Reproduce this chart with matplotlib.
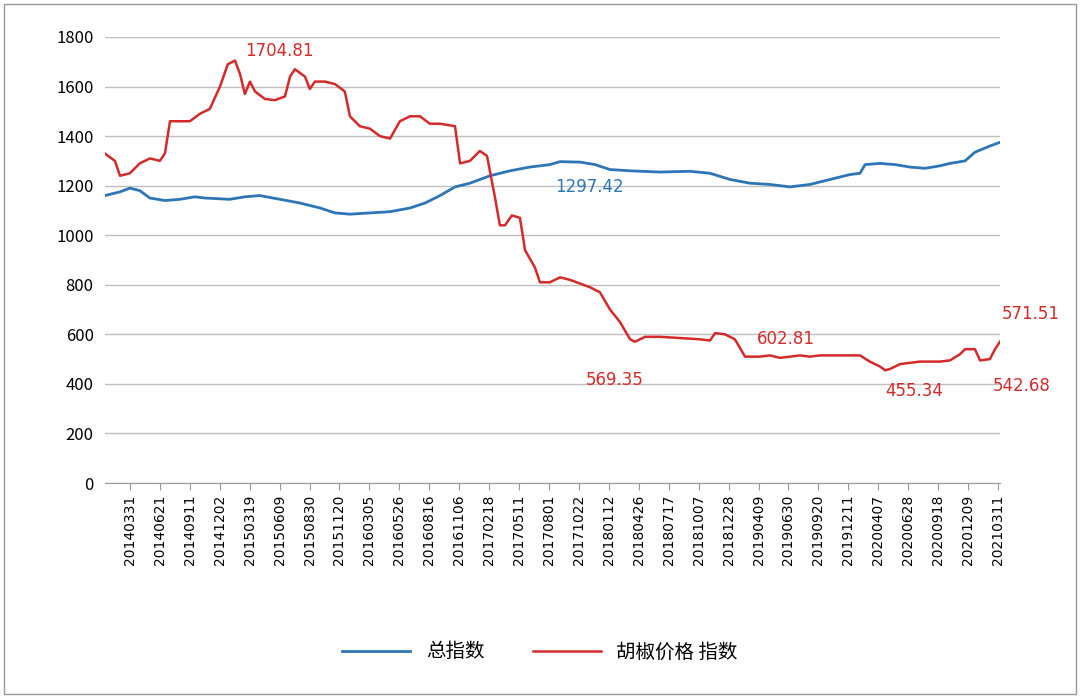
import matplotlib

matplotlib.use("Agg")
import matplotlib.pyplot as plt  # noqa: E402
from matplotlib.patches import Rectangle  # noqa: E402

plt.rcParams["font.family"] = ["Noto Sans CJK SC", "DejaVu Sans"]

tick_labels = [
    "20140331", "20140621", "20140911", "20141202", "20150319", "20150609",
    "20150830", "20151120", "20160305", "20160526", "20160816", "20161106",
    "20170218", "20170511", "20170801", "20171022", "20180112", "20180426",
    "20180717", "20181007", "20181228", "20190409", "20190630", "20190920",
    "20191211", "20200407", "20200628", "20200918", "20201209", "20210311",
]

# position in tick-label periods, value
pepper_pos = [
    -0.84, -0.50, -0.33, 0, 0.33, 0.67, 1.00, 1.17, 1.34, 1.67, 2.00, 2.34, 2.67,
    3.01, 3.27, 3.51, 3.68, 3.84, 4.01, 4.18, 4.51, 4.84, 5.18, 5.35, 5.51, 5.85,
    6.01, 6.18, 6.52, 6.85, 7.18, 7.35, 7.68, 8.02, 8.35, 8.69, 9.02, 9.36, 9.69,
    10.02, 10.36, 10.86, 11.03, 11.36, 11.69, 11.93, 12.20, 12.36, 12.53, 12.76,
    13.03, 13.20, 13.53, 13.70, 14.03, 14.37, 14.70, 15.04, 15.37, 15.70, 16.04,
    16.37, 16.71, 16.87, 17.21, 17.71, 18.38, 19.04, 19.38, 19.55, 19.88, 20.21,
    20.55, 21.05, 21.38, 21.72, 22.05, 22.39, 22.72, 23.05, 23.72, 24.39, 24.72,
    25.06, 25.23, 25.39, 25.73, 26.06, 26.39, 27.06, 27.40, 27.73, 27.90, 28.23,
    28.40, 28.73, 28.90, 29.07,
]
pepper_val = [
    1330, 1300, 1240, 1250, 1290, 1310, 1300, 1330, 1460, 1460, 1460, 1490, 1510,
    1600, 1690, 1705, 1650, 1570, 1620, 1580, 1550, 1545, 1560, 1640, 1670, 1640,
    1590, 1620, 1620, 1610, 1580, 1480, 1440, 1430, 1400, 1390, 1460, 1480, 1480,
    1450, 1450, 1440, 1290, 1300, 1340, 1320, 1150, 1040, 1040, 1080, 1070, 940,
    870, 810, 810, 830, 820, 805, 790, 770, 700, 650, 580, 570, 590, 590, 585, 580,
    575, 605, 600, 580, 510, 510, 515, 505, 510, 515, 510, 515, 515, 515, 490, 470,
    455, 460, 480, 485, 490, 490, 495, 520, 540, 540, 495, 500, 540, 571,
]

total_pos = [
    -0.84, -0.33, 0, 0.33, 0.67, 1.17, 1.67, 2.17, 2.51, 3.34, 3.84, 4.34, 5.01,
    5.68, 6.35, 6.85, 7.35, 8.02, 8.69, 9.36, 9.86, 10.36, 10.86, 11.36, 12.03,
    12.70, 13.36, 14.03, 14.37, 15.04, 15.54, 16.04, 16.71, 17.71, 18.71, 19.38,
    20.05, 20.71, 21.38, 22.05, 22.72, 23.39, 24.06, 24.39, 24.56, 25.06, 25.56,
    26.06, 26.56, 27.06, 27.40, 27.90, 28.23, 28.73, 29.07,
]
total_val = [
    1160, 1175, 1190, 1180, 1150, 1140, 1145, 1155, 1150, 1145, 1155, 1160, 1145,
    1130, 1110, 1090, 1085, 1090, 1095, 1110, 1130, 1160, 1195, 1210, 1240, 1260,
    1275, 1285, 1297, 1295, 1285, 1265, 1260, 1255, 1258, 1250, 1225, 1210, 1205,
    1195, 1205, 1225, 1245, 1250, 1285, 1290, 1285, 1275, 1270, 1280, 1290, 1300,
    1335, 1360, 1375,
]

# annotation text, position (period), value
notes_red = [("1704.81", 5.0, 1725), ("569.35", 16.2, 395), ("602.81", 21.9, 560),
             ("455.34", 26.2, 350), ("542.68", 29.8, 370), ("571.51", 30.1, 660)]
notes_blue = [("1297.42", 15.35, 1175)]

BLUE = "#2E75B6"
RED = "#D42A2A"

fig = plt.figure(figsize=(10.8, 6.98), dpi=100)
ax = fig.add_axes([0.097, 0.308, 0.829, 0.639])
ax.plot(total_pos, total_val, color=BLUE, lw=2, label="总指数")
ax.plot(pepper_pos, pepper_val, color=RED, lw=1.8, label="胡椒价格 指数")

for txt, x, y in notes_red:
    ax.text(x, y, txt, color=RED, fontsize=12, ha="center", family="DejaVu Sans")
for txt, x, y in notes_blue:
    ax.text(x, y, txt, color=BLUE, fontsize=12, ha="center", family="DejaVu Sans")

ax.set_xlim(-0.84, 29.07)
ax.set_ylim(0, 1800)
ax.set_yticks(range(0, 1801, 200))
ax.tick_params(axis="y", length=0, labelsize=12, pad=8)
ax.set_xticks(range(len(tick_labels)))
ax.set_xticklabels(tick_labels, rotation=90, fontsize=10, family="DejaVu Sans")
ax.tick_params(axis="x", length=5, color="#999999")
ax.grid(axis="y", color="#BFBFBF", lw=1)
for s in ["top", "right", "left"]:
    ax.spines[s].set_visible(False)
ax.spines["bottom"].set_color("#999999")

fig.legend(loc="center", bbox_to_anchor=(0.5, 0.066), ncol=2, frameon=False,
           fontsize=14, handlelength=3.5, columnspacing=2.5)
fig.patches.append(Rectangle((0.004, 0.006), 0.992, 0.988, transform=fig.transFigure,
                             fill=False, edgecolor="#999999", lw=1))

fig.savefig("out.png", dpi=100)
